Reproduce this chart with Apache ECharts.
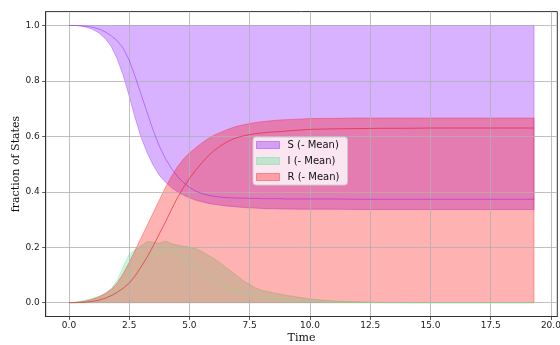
<!DOCTYPE html>
<html>
<head>
<meta charset="utf-8">
<script src="https://cdn.jsdelivr.net/npm/echarts@6.0.0/dist/echarts.min.js"></script>
<style>
  html, body { margin: 0; padding: 0; background: #ffffff; }
  #chart { width: 560px; height: 345px; }
</style>
</head>
<body>
<div id="chart"></div>
<script>
// Sample times of the simulated SIR runs
const time = [0, 0.25, 0.5, 0.75, 1, 1.25, 1.5, 1.75, 2, 2.25, 2.5, 2.75, 3, 3.25, 3.5, 3.75,
  4, 4.25, 4.5, 4.75, 5, 5.25, 5.5, 5.75, 6, 6.25, 6.5, 6.75, 7, 7.25, 7.5, 7.75, 8, 8.25, 8.5, 8.75, 9,
  9.5, 10, 11, 12, 13, 14, 15, 16, 17, 18, 19, 19.3];

// Susceptible: envelope over runs and mean
const sHigh = [1, 1, 1, 1, 1, 1, 1, 1, 1, 1, 1, 1, 1, 1, 1, 1,
  1, 1, 1, 1, 1, 1, 1, 1, 1, 1, 1, 1, 1, 1, 1, 1, 1, 1, 1, 1, 1,
  1, 1, 1, 1, 1, 1, 1, 1, 1, 1, 1, 1];
const sLow = [1.0, 1.0, 0.998, 0.993, 0.985, 0.973, 0.953, 0.925, 0.88, 0.82, 0.745, 0.665, 0.595, 0.54, 0.495, 0.46,
  0.435, 0.415, 0.40, 0.388, 0.378, 0.37, 0.364, 0.359, 0.355, 0.352, 0.349, 0.347, 0.345, 0.343, 0.342, 0.341, 0.34, 0.339, 0.339, 0.338, 0.338,
  0.337, 0.337, 0.337, 0.336, 0.336, 0.336, 0.336, 0.336, 0.336, 0.336, 0.336, 0.336];
const sMean = [1.0, 1.0, 0.999, 0.997, 0.993, 0.987, 0.977, 0.963, 0.945, 0.918, 0.875, 0.815, 0.75, 0.685, 0.62, 0.565,
  0.52, 0.485, 0.455, 0.433, 0.416, 0.403, 0.394, 0.388, 0.384, 0.381, 0.379, 0.378, 0.377, 0.377, 0.376, 0.376, 0.375, 0.375, 0.375, 0.375, 0.374,
  0.374, 0.374, 0.374, 0.373, 0.373, 0.373, 0.373, 0.373, 0.373, 0.373, 0.373, 0.373];

// Infected: envelope over runs and mean
const iHigh = [0, 0.001, 0.005, 0.01, 0.016, 0.023, 0.034, 0.05, 0.08, 0.13, 0.175, 0.192, 0.205, 0.221, 0.218, 0.214,
  0.222, 0.213, 0.208, 0.203, 0.201, 0.195, 0.185, 0.172, 0.16, 0.145, 0.128, 0.112, 0.095, 0.078, 0.065, 0.053, 0.045, 0.04, 0.035, 0.031, 0.027,
  0.02, 0.013, 0.006, 0.003, 0.001, 0, 0, 0, 0, 0, 0, 0];
const iLow = [0, 0, 0, 0, 0, 0, 0, 0, 0, 0, 0, 0, 0, 0, 0, 0,
  0, 0, 0, 0, 0, 0, 0, 0, 0, 0, 0, 0, 0, 0, 0, 0, 0, 0, 0, 0, 0,
  0, 0, 0, 0, 0, 0, 0, 0, 0, 0, 0, 0];
const iMean = [0, 0, 0.001, 0.002, 0.005, 0.009, 0.016, 0.026, 0.043, 0.066, 0.093, 0.12, 0.143, 0.162, 0.175, 0.183,
  0.185, 0.182, 0.175, 0.165, 0.15, 0.133, 0.116, 0.1, 0.085, 0.072, 0.06, 0.05, 0.042, 0.035, 0.029, 0.024, 0.02, 0.017, 0.014, 0.012, 0.01,
  0.007, 0.005, 0.003, 0.001, 0, 0, 0, 0, 0, 0, 0, 0];

// Recovered: envelope over runs and mean
const rHigh = [0, 0.001, 0.003, 0.007, 0.013, 0.021, 0.032, 0.047, 0.07, 0.105, 0.145, 0.19, 0.235, 0.28, 0.325, 0.37,
  0.415, 0.455, 0.49, 0.518, 0.54, 0.558, 0.575, 0.59, 0.603, 0.613, 0.622, 0.63, 0.637, 0.642, 0.646, 0.65, 0.653, 0.655, 0.657, 0.659, 0.66,
  0.662, 0.664, 0.665, 0.666, 0.666, 0.666, 0.666, 0.666, 0.666, 0.666, 0.666, 0.666];
const rLow = [0, 0, 0, 0, 0, 0, 0, 0, 0, 0, 0, 0, 0, 0, 0, 0,
  0, 0, 0, 0, 0, 0, 0, 0, 0, 0, 0, 0, 0, 0, 0, 0, 0, 0, 0, 0, 0,
  0, 0, 0, 0, 0, 0, 0, 0, 0, 0, 0, 0];
const rMean = [0, 0, 0.001, 0.002, 0.005, 0.009, 0.016, 0.025, 0.037, 0.052, 0.07, 0.097, 0.13, 0.165, 0.205, 0.248,
  0.29, 0.335, 0.378, 0.415, 0.448, 0.477, 0.503, 0.527, 0.547, 0.563, 0.577, 0.588, 0.596, 0.602, 0.606, 0.61, 0.612, 0.614, 0.616, 0.617, 0.619,
  0.622, 0.625, 0.627, 0.628, 0.629, 0.629, 0.63, 0.63, 0.63, 0.63, 0.63, 0.63];

const xTicks = [0, 2.5, 5, 7.5, 10, 12.5, 15, 17.5, 20];
const yTicks = [0, 0.2, 0.4, 0.6, 0.8, 1.0];
const legendNames = ['S (- Mean)', 'I (- Mean)', 'R (- Mean)'];

const sFill = 'rgba(128, 0, 255, 0.3)';
const iFill = 'rgba(0, 230, 100, 0.23)';
const rFill = 'rgba(255, 0, 0, 0.3)';

// Filled envelope between two curves, projected through the axes
function bandRenderer(upper, lower, fill) {
  return function (params, api) {
    const pts = [];
    for (let k = 0; k < time.length; k++) pts.push(api.coord([time[k], upper[k]]));
    for (let k = time.length - 1; k >= 0; k--) pts.push(api.coord([time[k], lower[k]]));
    return {
      type: 'polygon',
      shape: { points: pts },
      style: { fill: fill, stroke: fill, lineWidth: 1 }
    };
  };
}

function pairs(ys) { return time.map((t, k) => [t, ys[k]]); }

function meanLine(ys, color, z) {
  return {
    type: 'line', data: pairs(ys), showSymbol: false, symbol: 'none', z: z,
    lineStyle: { color: color, width: 1 }, silent: true
  };
}

const axisFont = { fontFamily: 'DejaVu Sans', fontSize: 9, color: '#222' };
const nameFont = { fontFamily: 'DejaVu Serif', fontSize: 11, color: '#111' };

const chart = echarts.init(document.getElementById('chart'), null, { renderer: 'canvas' });
chart.setOption({
  animation: false,
  backgroundColor: '#ffffff',
  grid: {
    left: 45.7, right: 2.7, top: 11.6, bottom: 28.5,
    show: true, borderColor: '#333', borderWidth: 1, backgroundColor: 'transparent',
    containLabel: false, outerBoundsMode: 'none'
  },
  xAxis: {
    type: 'value', min: -0.965, max: 20.265, z: 4,
    name: 'Time', nameLocation: 'middle', nameGap: 16, nameTextStyle: nameFont, nameMoveOverlap: false,
    axisLine: { show: true, onZero: false, lineStyle: { color: '#333', width: 1 } },
    axisTick: { show: true, inside: false, length: 3.5, customValues: xTicks, lineStyle: { color: '#333', width: 0.8 } },
    axisLabel: Object.assign({ customValues: xTicks, margin: 5, formatter: v => v.toFixed(1), showMinLabel: true, showMaxLabel: true, hideOverlap: false }, axisFont),
    splitLine: { show: true, lineStyle: { color: '#b0b0b0', width: 0.8 } }
  },
  yAxis: {
    type: 'value', min: -0.05, max: 1.05, z: 4,
    name: 'fraction of States', nameLocation: 'middle', nameGap: 24, nameTextStyle: nameFont, nameMoveOverlap: false,
    axisLine: { show: true, onZero: false, lineStyle: { color: '#333', width: 1 } },
    axisTick: { show: true, inside: false, length: 3.5, customValues: yTicks, lineStyle: { color: '#333', width: 0.8 } },
    axisLabel: Object.assign({ customValues: yTicks, margin: 6, formatter: v => v.toFixed(1), showMinLabel: true, showMaxLabel: true, hideOverlap: false }, axisFont),
    splitLine: { show: true, lineStyle: { color: '#b0b0b0', width: 0.8 } }
  },
  legend: {
    show: true, orient: 'vertical', left: 253, top: 137, z: 10,
    data: [
      { name: legendNames[0], icon: 'rect', itemStyle: { color: sFill, borderColor: 'rgba(128,0,255,0.35)', borderWidth: 1 } },
      { name: legendNames[1], icon: 'rect', itemStyle: { color: iFill, borderColor: 'rgba(0,200,90,0.2)', borderWidth: 1 } },
      { name: legendNames[2], icon: 'rect', itemStyle: { color: rFill, borderColor: 'rgba(255,0,0,0.35)', borderWidth: 1 } }
    ],
    itemWidth: 23, itemHeight: 7, itemGap: 6,
    padding: [3, 8, 3, 3],
    backgroundColor: 'rgba(255,255,255,0.8)', borderColor: '#cccccc', borderWidth: 1, borderRadius: 3,
    textStyle: { fontFamily: 'DejaVu Sans', fontSize: 10, color: '#111', padding: [0, 0, 0, 3] },
    selectedMode: false
  },
  series: [
    { type: 'custom', name: legendNames[0], z: 1, silent: true, data: [[0, 0]],
      itemStyle: { color: sFill }, renderItem: bandRenderer(sHigh, sLow, sFill) },
    { type: 'custom', name: legendNames[1], z: 2, silent: true, data: [[0, 0]],
      itemStyle: { color: iFill }, renderItem: bandRenderer(iHigh, iLow, iFill) },
    { type: 'custom', name: legendNames[2], z: 3, silent: true, data: [[0, 0]],
      itemStyle: { color: rFill }, renderItem: bandRenderer(rHigh, rLow, rFill) },
    meanLine(sMean, 'rgba(128, 0, 255, 0.4)', 5),
    meanLine(iMean, 'rgba(120, 230, 130, 0.45)', 6),
    meanLine(rMean, 'rgba(235, 20, 40, 0.6)', 7)
  ]
});
</script>
</body>
</html>
